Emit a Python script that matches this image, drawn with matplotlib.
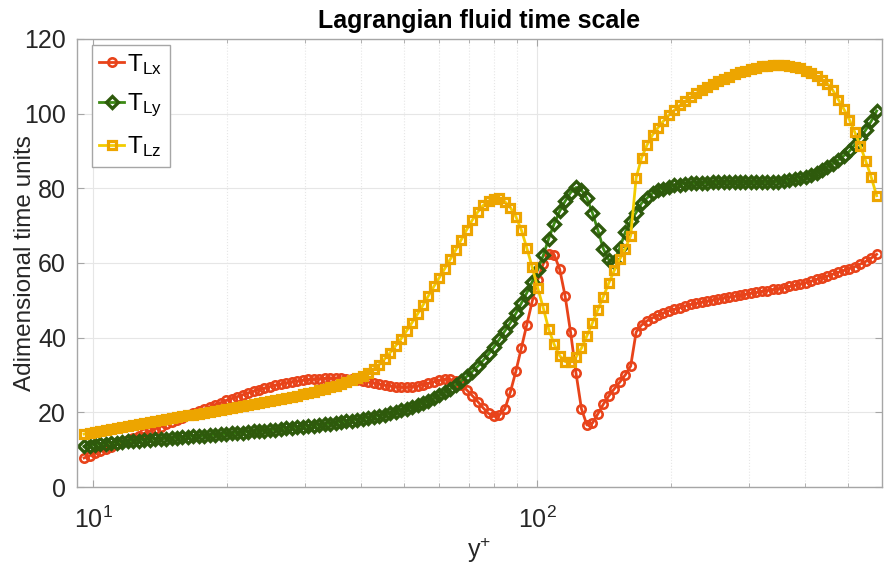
import numpy as np
import matplotlib
matplotlib.use('Agg')
import matplotlib.pyplot as plt
from matplotlib.ticker import LogLocator, NullFormatter

plt.rcParams['font.family'] = ['Liberation Sans', 'DejaVu Sans']
plt.rcParams['mathtext.fontset'] = 'custom'
plt.rcParams['mathtext.rm'] = 'Liberation Sans'
plt.rcParams['mathtext.it'] = 'Liberation Sans'
plt.rcParams['mathtext.bf'] = 'Liberation Sans:bold'

# wall-normal sample positions (log-spaced grid of the data, y+ from ~9.5 to ~580)
yplus = np.geomspace(9.54, 580.0, 146)

T_Lx = [7.8, 8.4, 9.0, 9.6, 10.2, 10.8, 11.4, 12.0, 12.6, 13.2,
        13.8, 14.4, 15.0, 15.6, 16.2, 16.8, 17.4, 18.0, 18.6, 19.2,
        19.8, 20.4, 20.9, 21.5, 22.1, 22.6, 23.2, 23.7, 24.2, 24.7,
        25.2, 25.7, 26.1, 26.5, 26.9, 27.3, 27.6, 27.9, 28.2, 28.4,
        28.6, 28.8, 28.9, 29.0, 29.1, 29.1, 29.1, 29.1, 29.0, 28.9,
        28.7, 28.5, 28.2, 27.9, 27.6, 27.3, 27.1, 26.9, 26.8, 26.8,
        26.9, 27.1, 27.4, 27.8, 28.2, 28.6, 28.9, 28.8, 28.4, 27.4,
        26.0, 24.5, 22.9, 21.2, 19.7, 18.9, 19.3, 21.0, 25.5, 31.0,
        37.2, 43.5, 49.8, 55.5, 59.7, 62.5, 62.2, 58.4, 51.2, 41.5,
        30.5, 20.9, 16.6, 17.1, 19.6, 22.2, 24.4, 26.3, 28.1, 30.0,
        32.4, 41.5, 43.4, 44.5, 45.3, 46.0, 46.6, 47.2, 47.6, 48.0,
        48.5, 48.9, 49.2, 49.5, 49.8, 50.1, 50.4, 50.7, 50.9, 51.1,
        51.3, 51.6, 51.9, 52.1, 52.4, 52.6, 52.9, 53.1, 53.4, 53.7,
        54.0, 54.4, 54.7, 55.1, 55.6, 56.1, 56.5, 57.0, 57.5, 58.0,
        58.5, 59.0, 59.7, 60.4, 61.3, 62.3]

T_Ly = [10.9, 11.1, 11.3, 11.5, 11.6, 11.8, 11.9, 12.0, 12.2, 12.3,
        12.4, 12.6, 12.7, 12.8, 12.9, 13.0, 13.1, 13.2, 13.3, 13.5,
        13.6, 13.7, 13.8, 13.9, 14.0, 14.1, 14.3, 14.4, 14.5, 14.6,
        14.8, 14.9, 15.0, 15.1, 15.3, 15.4, 15.5, 15.7, 15.8, 16.0,
        16.1, 16.3, 16.4, 16.6, 16.8, 17.0, 17.2, 17.4, 17.6, 17.8,
        18.0, 18.3, 18.5, 18.8, 19.1, 19.4, 19.7, 20.1, 20.5, 20.9,
        21.4, 21.9, 22.5, 23.1, 23.8, 24.6, 25.4, 26.3, 27.3, 28.4,
        29.6, 30.9, 32.3, 33.9, 35.6, 37.5, 39.6, 41.8, 44.0, 46.5,
        49.2, 52.0, 55.0, 58.2, 62.0, 66.5, 70.5, 73.8, 76.5, 78.8,
        80.2, 79.5, 77.3, 73.4, 68.8, 63.8, 60.8, 60.3, 64.0, 68.2,
        71.2, 73.5, 76.0, 77.4, 78.7, 79.4, 79.9, 80.4, 80.8, 81.0,
        81.2, 81.3, 81.4, 81.5, 81.5, 81.6, 81.6, 81.6, 81.6, 81.6,
        81.6, 81.6, 81.6, 81.6, 81.6, 81.6, 81.7, 81.8, 81.9, 82.1,
        82.4, 82.7, 83.1, 83.6, 84.2, 84.9, 85.8, 86.6, 87.6, 88.7,
        89.9, 91.6, 93.5, 95.6, 97.9, 100.7]

T_Lz = [14.2, 14.5, 14.8, 15.1, 15.4, 15.6, 15.9, 16.2, 16.4, 16.7,
        16.9, 17.2, 17.4, 17.7, 17.9, 18.2, 18.4, 18.7, 18.9, 19.2,
        19.4, 19.6, 19.9, 20.1, 20.4, 20.6, 20.9, 21.1, 21.4, 21.7,
        21.9, 22.2, 22.5, 22.7, 23.0, 23.3, 23.6, 23.9, 24.2, 24.5,
        24.8, 25.1, 25.5, 25.9, 26.3, 26.7, 27.1, 27.6, 28.1, 28.6,
        29.1, 29.8, 30.6, 31.6, 32.8, 34.3, 36.0, 37.8, 39.7, 41.8,
        44.0, 46.3, 48.7, 51.2, 53.7, 56.1, 58.5, 61.0, 63.5, 66.2,
        68.9, 71.4, 73.6, 75.4, 76.6, 77.2, 77.3, 76.4, 74.8, 72.4,
        68.8, 64.0, 58.8, 53.3, 48.0, 42.3, 38.2, 35.2, 33.6, 33.5,
        34.8, 37.2, 40.5, 43.9, 47.5, 51.0, 54.6, 58.0, 61.0, 63.8,
        67.3, 82.8, 88.2, 91.6, 94.3, 96.2, 98.0, 99.6, 100.9, 102.2,
        103.3, 104.4, 105.4, 106.3, 107.1, 107.9, 108.6, 109.3, 109.9, 110.5,
        111.0, 111.5, 111.9, 112.3, 112.6, 112.8, 113.0, 113.0, 113.0, 112.8,
        112.5, 112.1, 111.5, 110.8, 110.0, 109.1, 108.0, 106.2, 103.7, 101.2,
        98.4, 95.0, 91.4, 87.3, 83.0, 78.0]

labels = [r'$\mathregular{T_{Lx}}$', r'$\mathregular{T_{Ly}}$', r'$\mathregular{T_{Lz}}$']
yticks = [0, 20, 40, 60, 80, 100, 120]

fig = plt.figure(figsize=(8.86, 5.71), dpi=100)
ax = fig.add_axes([0.087, 0.147, 0.908, 0.785])

ax.plot(yplus, T_Lx, '-o', color='#E8431A', lw=2, ms=6, mfc='none', mew=1.9, label=labels[0])
ax.plot(yplus, T_Ly, '-D', color='#3C8A14', lw=2, ms=5.8, mfc='none', mec='#2E5A0C', mew=2.4, label=labels[1])
ax.plot(yplus, T_Lz, '-s', color='#F2CC00', lw=2, ms=5.3, mfc='none', mec='#EDA500', mew=2.3, label=labels[2])

ax.set_xscale('log')
ax.set_xlim(9.2, 595)
ax.set_ylim(0, 120)
ax.set_yticks(yticks)
ax.xaxis.set_major_locator(LogLocator(base=10))
ax.xaxis.set_minor_locator(LogLocator(base=10, subs=np.arange(2, 10)))
ax.xaxis.set_minor_formatter(NullFormatter())

ax.grid(True, which='major', color='#E6E6E6', lw=0.8, ls='-')
ax.grid(True, which='minor', axis='x', color='#E6E6E6', lw=0.8, ls=':')
ax.set_axisbelow(True)

for s in ax.spines.values():
    s.set_color('#A6A6A6')
    s.set_linewidth(1.0)
ax.tick_params(which='both', direction='in', top=True, right=True, colors='#A6A6A6',
               labelcolor='#262626', labelsize=18)
ax.tick_params(which='major', length=5)
ax.tick_params(which='minor', length=3)
ax.tick_params(axis='x', pad=14)
ax.tick_params(axis='y', pad=8)

ax.set_title('Lagrangian fluid time scale', fontsize=18, fontweight='bold', pad=8)
ax.set_ylabel('Adimensional time units', fontsize=17.5, color='#262626')
ax.yaxis.set_label_coords(-0.051, 0.5)
ax.set_xlabel(r'$\mathregular{y^{+}}$', fontsize=18, color='#262626', labelpad=2)

leg = ax.legend(loc='upper left', bbox_to_anchor=(0.0187, 0.987), fontsize=17.5,
                fancybox=False, framealpha=1, edgecolor='#A6A6A6',
                handlelength=1.0, handletextpad=0.15, borderpad=0.3,
                labelspacing=0.62, borderaxespad=0)
leg.get_frame().set_linewidth(1.0)

fig.savefig('out.png', dpi=100)
